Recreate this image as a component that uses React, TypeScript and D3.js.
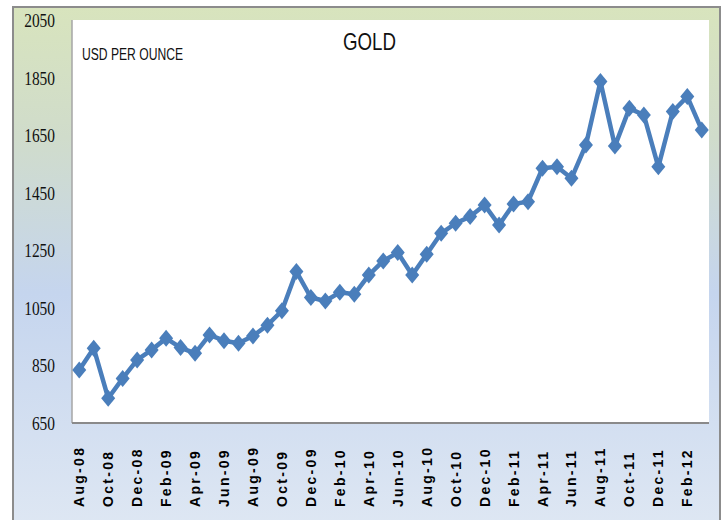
import React from 'react';
import * as d3 from 'd3';

// monthly gold price, USD per ounce
const months = [
  'Aug-08', 'Sep-08', 'Oct-08', 'Nov-08', 'Dec-08',
  'Jan-09', 'Feb-09', 'Mar-09', 'Apr-09', 'May-09', 'Jun-09', 'Jul-09', 'Aug-09', 'Sep-09', 'Oct-09', 'Nov-09', 'Dec-09',
  'Jan-10', 'Feb-10', 'Mar-10', 'Apr-10', 'May-10', 'Jun-10', 'Jul-10', 'Aug-10', 'Sep-10', 'Oct-10', 'Nov-10', 'Dec-10',
  'Jan-11', 'Feb-11', 'Mar-11', 'Apr-11', 'May-11', 'Jun-11', 'Jul-11', 'Aug-11', 'Sep-11', 'Oct-11', 'Nov-11', 'Dec-11',
  'Jan-12', 'Feb-12', 'Mar-12',
];
const prices = [
  834, 910, 736, 805, 869,
  904, 944, 912, 892, 956, 936, 927, 952, 990, 1040, 1176, 1086,
  1074, 1104, 1097, 1164, 1213, 1242, 1164, 1236, 1309, 1344, 1367, 1407,
  1338, 1411, 1419, 1535, 1540, 1500, 1616, 1836, 1612, 1743, 1720, 1540,
  1732, 1784, 1668,
];
const yTicks = [650, 850, 1050, 1250, 1450, 1650, 1850, 2050];
// every other month gets a label
const xLabels = months.filter((_, i) => i % 2 === 0);

const W = 726;
const H = 520;
const plot = { left: 72, top: 20, right: 709, bottom: 423 };
const blue = '#4a7ebb';

export default function App() {
  const x = d3.scaleBand().domain(months).range([plot.left, plot.right]);
  const y = d3.scaleLinear().domain([650, 2050]).range([plot.bottom, plot.top]);
  const cx = (m: string) => (x(m) as number) + x.bandwidth() / 2;

  const line = d3.line<number>()
    .x((_, i) => cx(months[i]))
    .y(d => y(d));

  // marker: diamond a bit taller than wide, like excel's
  const dw = 7, dh = 8.5;
  const diamond = `M0,${-dh}L${dw},0L0,${dh}L${-dw},0Z`;

  return (
    <div style={{ position: 'absolute', left: 0, top: 0 }}>
      <svg width={W} height={H} style={{ display: 'block', background: '#fff' }}>
        <defs>
          <linearGradient id="bg" x1="0" y1="0" x2="0" y2="1">
            <stop offset="0%" stopColor="#d8e4bd" />
            <stop offset="25%" stopColor="#d0dccb" />
            <stop offset="55%" stopColor="#c5d5ee" />
            <stop offset="100%" stopColor="#dee7f3" />
          </linearGradient>
        </defs>

        {/* outer frame */}
        <rect x={13} y={7} width={707} height={H} fill="url(#bg)" stroke="#8c8c8c" strokeWidth={2} />

        {/* plot area */}
        <rect x={plot.left} y={plot.top} width={plot.right - plot.left} height={plot.bottom - plot.top} fill="#fff" />
        <line x1={plot.left} x2={plot.left} y1={plot.top} y2={plot.bottom} stroke="#a6a6a6" strokeWidth={1.5} />
        <line x1={plot.left} x2={plot.right} y1={plot.bottom} y2={plot.bottom} stroke="#8a8a8a" strokeWidth={2} />

        {/* y labels */}
        {yTicks.map(t => (
          <text key={t} x={55} y={y(t) + 7} textAnchor="end"
            fontFamily="Liberation Serif, serif" fontSize={19}
            textLength={String(t).length * 7.7} lengthAdjust="spacingAndGlyphs" fill="#111">
            {t}
          </text>
        ))}

        {/* x labels */}
        {xLabels.map(m => (
          <text key={m} transform={`translate(${cx(m) + 5},507) rotate(-90)`}
            fontFamily="Liberation Sans, Arial, sans-serif" fontWeight="bold" fontSize={14}
            letterSpacing={2.3} fill="#000">
            {m}
          </text>
        ))}

        {/* titles */}
        <text x={369.5} y={50} textAnchor="middle" fontFamily="Liberation Sans, Arial, sans-serif"
          fontSize={24} textLength={53} lengthAdjust="spacingAndGlyphs" fill="#111">GOLD</text>
        <text x={82} y={60} fontFamily="Liberation Sans, Arial, sans-serif"
          fontSize={16} textLength={101} lengthAdjust="spacingAndGlyphs" fill="#111">USD PER OUNCE</text>

        {/* series */}
        <path d={line(prices) || ''} fill="none" stroke={blue} strokeWidth={4.5} strokeLinejoin="round" />
        {prices.map((p, i) => (
          <path key={months[i]} d={diamond} transform={`translate(${cx(months[i])},${y(p)})`} fill={blue} />
        ))}
      </svg>
    </div>
  );
}
